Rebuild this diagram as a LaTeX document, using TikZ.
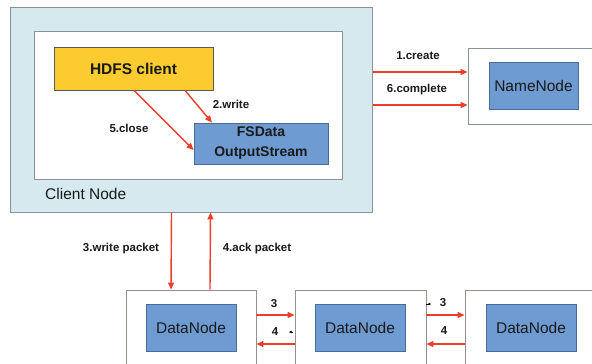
\documentclass[tikz,border=0pt]{standalone}
\usepackage{fontspec}
\setmainfont{Liberation Sans}
\usetikzlibrary{arrows.meta}
\definecolor{clientbg}{HTML}{D5E9EF}
\definecolor{gold}{HTML}{FBCB2F}
\definecolor{bluebox}{HTML}{6E9BD1}
\definecolor{blueedge}{HTML}{4A6A98}
\definecolor{grayedge}{HTML}{8A9296}
\definecolor{dnedge}{HTML}{9A8E8C}
\definecolor{redarr}{HTML}{EA3F2C}
\definecolor{txt}{HTML}{1A1A1A}
\tikzset{
  frame/.style={draw=grayedge, line width=0.9pt, inner sep=0pt},
  dnframe/.style={draw=dnedge, line width=0.9pt, fill=white, inner sep=0pt},
  bluenode/.style={draw=blueedge, fill=bluebox, line width=0.8pt, inner sep=0pt, text=txt, font=\fontsize{15.5}{18}\selectfont},
  arr/.style={draw=redarr, line width=1.4pt, -{Triangle[length=7pt,width=6pt]}},
  lbl/.style={font=\bfseries\fontsize{11.5}{13}\selectfont, text=txt, inner sep=0pt},
  tiny/.style={draw=black, line width=0.5pt, -{Triangle[length=2.5pt,width=2.5pt]}}
}
\begin{document}
\begin{tikzpicture}[x=1pt,y=-1pt]
\useasboundingbox (0,0) rectangle (592,364);
\clip (0,0) rectangle (592,364);
\fill[white] (0,0) rectangle (592,364);
% client node
\node[frame, fill=clientbg, minimum width=362pt, minimum height=205pt] (client) at (191.5,109.5) {};
\node[draw=grayedge, line width=0.8pt, fill=white, minimum width=308pt, minimum height=148pt, inner sep=0pt] (inner) at (188,105) {};
\node[anchor=west, text=txt, font=\fontsize{15.5}{18}\selectfont, inner sep=0pt] (cnlabel) at (45,194) {Client Node};
\node[draw=gray!70!black, fill=gold, line width=0.8pt, minimum width=159pt, minimum height=43pt, inner sep=0pt, text=txt, font=\bfseries\fontsize{15.5}{18}\selectfont] (hdfs) at (133.5,68.5) {HDFS client};
\node[bluenode, minimum width=134pt, minimum height=41pt, align=center, font=\bfseries\fontsize{14}{20}\selectfont] (fsdata) at (261,143.5) {FSData\\OutputStream};
\draw[arr] ([xshift=51.5pt]hdfs.south) -- ([xshift=-49pt]fsdata.north);
\draw[arr] ([xshift=0.5pt]hdfs.south) -- ([yshift=-6.5pt]fsdata.west);
\node[lbl] (lwrite) at (231,104) {2.write};
\node[lbl] (lclose) at (129,128) {5.close};
% name node
\node[frame, fill=white, minimum width=140pt, minimum height=76pt] (nnouter) at (538,86) {};
\node[bluenode, minimum width=89pt, minimum height=47pt] (nn) at (533.5,85.5) {NameNode};
\coordinate (ya) at (0,72);
\coordinate (yb) at (0,105);
\draw[arr] (client.east |- ya) -- (nnouter.west |- ya);
\draw[arr] (client.east |- yb) -- (nnouter.west |- yb);
\node[lbl] (lcreate) at (418,56) {1.create};
\node[lbl] (lcomplete) at (417,90) {6.complete};
% data nodes
\node[dnframe, minimum width=130pt, minimum height=100pt] (dn1o) at (191,340) {};
\node[dnframe, minimum width=131pt, minimum height=100pt] (dn2o) at (360.5,340) {};
\node[dnframe, minimum width=140pt, minimum height=100pt] (dn3o) at (535,340) {};
\node[bluenode, minimum width=90pt, minimum height=47pt] (dn1) at (191,327.5) {DataNode};
\node[bluenode, minimum width=90pt, minimum height=47pt] (dn2) at (360,327.5) {DataNode};
\node[bluenode, minimum width=90pt, minimum height=47pt] (dn3) at (531,327.5) {DataNode};
% client <-> dn1
\draw[arr] ([xshift=-20pt]client.south) -- ([xshift=-20pt]dn1o.north);
\draw[arr] ([xshift=19pt]dn1o.north) -- ([xshift=19pt]client.south);
\node[lbl] (lwp) at (121,249) {3.write packet};
\node[lbl] (lack) at (257,249) {4.ack packet};
% pipeline
\coordinate (yc) at (0,315);
\coordinate (yd) at (0,344);
\draw[arr] (dn1o.east |- yc) -- (dn2o.west |- yc);
\draw[arr] (dn2o.west |- yd) -- (dn1o.east |- yd);
\draw[arr] (dn2o.east |- yc) -- (dn3o.west |- yc);
\draw[arr] (dn3o.west |- yd) -- (dn2o.east |- yd);
\node[lbl] (l3a) at (274,304) {3};
\node[lbl] (l4a) at (275,332) {4};
\node[lbl] (l3b) at (443,303) {3};
\node[lbl] (l4b) at (444,331) {4};
\coordinate (t1s) at (293,332);
\coordinate (t1e) at (289,332);
\draw[tiny] (t1s) -- (t1e);
\coordinate (t2s) at (426,304);
\coordinate (t2e) at (431,304);
\draw[tiny] (t2s) -- (t2e);
\end{tikzpicture}
\end{document}
